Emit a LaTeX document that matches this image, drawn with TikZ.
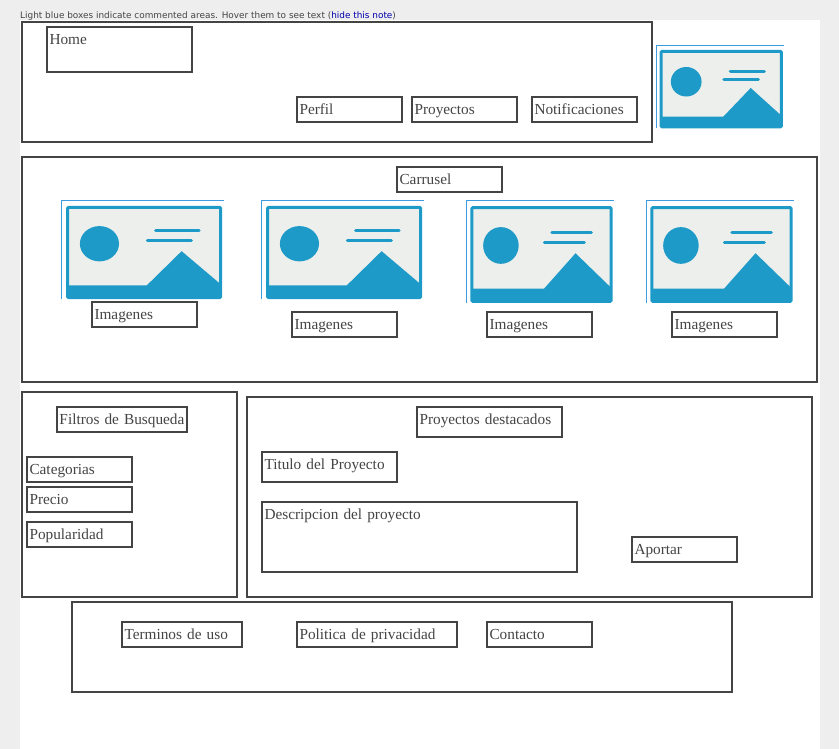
\documentclass[tikz,border=0pt]{standalone}
\usepackage{fontspec}
\usepackage{xcolor}
\setmainfont{Liberation Serif}
\newfontfamily\notefont{DejaVu Sans}
\usetikzlibrary{positioning}
\definecolor{wireline}{HTML}{444444}
\definecolor{pagegrey}{HTML}{EEEEEE}
\definecolor{iconblue}{HTML}{1E9AC8}
\definecolor{iconedge}{HTML}{3F9BE0}
\definecolor{iconpaper}{HTML}{ECEFEB}
\definecolor{linkblue}{HTML}{0000AA}
\tikzset{
  wirebox/.style 2 args={rectangle, draw=wireline, line width=2pt, outer sep=0pt, anchor=north west,
    inner xsep=2.5pt, inner ysep=6pt, align=left, text=wireline, font=\fontsize{15.3}{17}\selectfont,
    text width=#1pt-5pt, text height=11.6pt, text depth=#2pt-23.6pt},
  imgicon/.pic={
    \fill[iconpaper] (.04,.065) rectangle (.98,.985);
    \draw[iconblue, line width=3pt, rounded corners=1pt] (.04,.065) rectangle (.98,.985);
    \fill[iconblue] (.236,.436) ellipse [x radius=.12, y radius=.18];
    \draw[iconblue, line width=3pt, line cap=round] (.58,.306) -- (.847,.306);
    \draw[iconblue, line width=3pt, line cap=round] (.53,.405) -- (.80,.405);
    \fill[iconblue] (.04,.985) -- (.04,.86) -- (.527,.86) -- (.74,.512) -- (.98,.85) -- (.98,.985) -- cycle;
    \draw[iconedge, line width=1pt] (0,1) -- (0,0) -- (1,0);
  },
}

\begin{document}
\begin{tikzpicture}[x=1pt, y=-1pt]
  \useasboundingbox (0,0) rectangle (839,749);
  \fill[pagegrey] (0,0) rectangle (839,749);
  \fill[white] (20,20) rectangle (820,749);
  \node (note) [anchor=base west, inner sep=0pt, text=wireline, font=\notefont\fontsize{8.9}{10}\selectfont]
    at (20,18.5) {Light blue boxes indicate commented areas. Hover them to see text (\textcolor{linkblue}{hide this note})};

  % header
  \node (header) [wirebox={630}{120}] at (22,22) {};
  \node (home) [wirebox={145}{45}] at (47,27) {Home};
  \node (perfil) [wirebox={105}{25}] at (297,97) {Perfil};
  \node (proyectos) [wirebox={105}{25}] at (412,97) {Proyectos};
  \node (notificaciones) [wirebox={105}{25}] at (532,97) {Notificaciones};
  \pic [shift={(656,46)}, xscale=128, yscale=82] {imgicon};

  % carrusel
  \node (carrusel) [wirebox={795}{225}] at (22,157) {};
  \node (titlecarrusel) [wirebox={105}{25}] at (397,167) {Carrusel};
  \pic [shift={(61,201)}, xscale=163, yscale=98] {imgicon};
  \pic [shift={(261,201)}, xscale=163, yscale=98] {imgicon};
  \pic [shift={(466,201)}, xscale=148, yscale=102] {imgicon};
  \pic [shift={(646,201)}, xscale=148, yscale=102] {imgicon};
  \node (imagenesa) [wirebox={105}{25}] at (92,302) {Imagenes};
  \node (imagenesb) [wirebox={105}{25}] at (292,312) {Imagenes};
  \node (imagenesc) [wirebox={105}{25}] at (487,312) {Imagenes};
  \node (imagenesd) [wirebox={105}{25}] at (672,312) {Imagenes};

  % filtros
  \node (filtros) [wirebox={215}{205}] at (22,392) {};
  \node (titlefiltros) [wirebox={130}{25}] at (57,407) {Filtros de Busqueda};
  \node (categorias) [wirebox={105}{25}] at (27,457) {Categorias};
  \node (precio) [wirebox={105}{25}] at (27,487) {Precio};
  \node (popularidad) [wirebox={105}{25}] at (27,522) {Popularidad};

  % proyectos
  \node (destacados) [wirebox={565}{200}] at (247,397) {};
  \node (titledestacados) [wirebox={145}{30}] at (417,407) {Proyectos destacados};
  \node (titulo) [wirebox={135}{30}] at (262,452) {Titulo del Proyecto};
  \node (descripcion) [wirebox={315}{70}] at (262,502) {Descripcion del proyecto};
  \node (aportar) [wirebox={105}{25}] at (632,537) {Aportar};

  % footer
  \node (footer) [wirebox={660}{90}] at (72,602) {};
  \node (terminos) [wirebox={120}{25}] at (122,622) {Terminos de uso};
  \node (politica) [wirebox={160}{25}] at (297,622) {Politica de privacidad};
  \node (contacto) [wirebox={105}{25}] at (487,622) {Contacto};
\end{tikzpicture}
\end{document}
